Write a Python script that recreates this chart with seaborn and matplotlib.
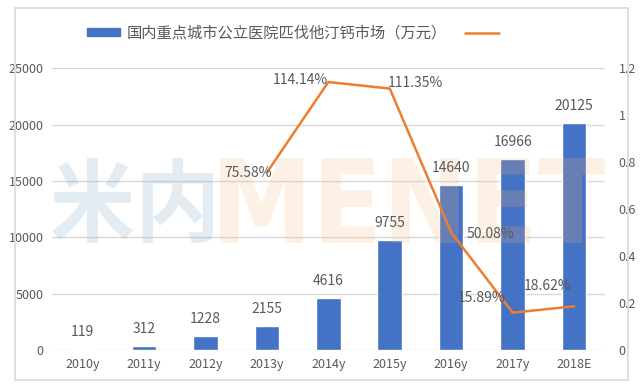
import numpy as np
import pandas as pd
import matplotlib
matplotlib.use("Agg")
import matplotlib.pyplot as plt
import seaborn as sns
from matplotlib.patches import Rectangle, PathPatch
from matplotlib.textpath import TextPath
from matplotlib.font_manager import FontProperties
from matplotlib.transforms import Affine2D

years = ["2010y", "2011y", "2012y", "2013y", "2014y", "2015y", "2016y", "2017y", "2018E"]
market = [119, 312, 1228, 2155, 4616, 9755, 14640, 16966, 20125]
growth_years = ["2013y", "2014y", "2015y", "2016y", "2017y", "2018E"]
growth = [0.7558, 1.1414, 1.1135, 0.5008, 0.1589, 0.1862]
legend_label = "国内重点城市公立医院匹伐他汀钙市场（万元）"

sns.set_style("white")
plt.rcParams["font.family"] = ["Noto Sans CJK SC", "DejaVu Sans"]
txt = "#595959"
grid = "#d9d9d9"
W, H = 640, 387

fig = plt.figure(figsize=(6.4, 3.87), dpi=100)
ax = fig.add_axes([0.081, 0.0956, 0.864, 0.728])

# outer frame
fig.patches.append(Rectangle((15 / W, 1 - 380 / H), 613 / W, 372 / H,
                             transform=fig.transFigure, fill=False,
                             edgecolor=grid, linewidth=1.2))


def watermark(s, x0, x1, ytop, ybot, color, family):
    # squeeze a text outline into a box given in pixels from top-left (watermark logo)
    tp = TextPath((0, 0), s, size=1, prop=FontProperties(family=family, weight="bold"))
    ext = tp.get_extents()
    sx = (x1 - x0) / ext.width / W
    sy = (ytop - ybot) / ext.height / H
    tr = (Affine2D().translate(-ext.x0, -ext.y0).scale(sx, -sy)
          .translate(x0 / W, 1 - ybot / H) + fig.transFigure)
    p = PathPatch(tp, facecolor=color, edgecolor="none", alpha=0.2,
                  transform=tr, zorder=4)
    ax.add_patch(p)


watermark("米内", 52, 213, 158, 243, "#6ea0be", "Noto Sans CJK SC")
watermark("MENET", 220, 607, 158, 243, "#f5b47a", "DejaVu Sans")

df = pd.DataFrame({"year": years, "value": market})
sns.barplot(data=df, x="year", y="value", color="#4472c4", width=0.4,
            saturation=1, ax=ax, zorder=3)
ax.set_ylim(0, 25000)
ax.set_yticks(range(0, 25001, 5000))
ax.yaxis.grid(True, color=grid, linewidth=1)
ax.set_axisbelow(True)
ax.set_xlabel("")
ax.set_ylabel("")
for s in ax.spines.values():
    s.set_visible(False)
ax.tick_params(axis="both", length=0, labelsize=9, colors=txt, pad=6)
ax.set_xlim(-0.5, len(years) - 0.5)

for i, v in enumerate(market):
    ax.text(i, v + 900, str(v), ha="center", va="bottom", fontsize=10, color=txt, zorder=5)

ax2 = ax.twinx()
xpos = [years.index(y) for y in growth_years]
line, = ax2.plot(xpos, growth, color="#ed7d31", linewidth=1.8, zorder=4)
ax2.set_ylim(0, 1.2)
ax2.set_yticks([0, 0.2, 0.4, 0.6, 0.8, 1.0, 1.2])
ax2.set_yticklabels(["0", "0.2", "0.4", "0.6", "0.8", "1", "1.2"])
for s in ax2.spines.values():
    s.set_visible(False)
ax2.tick_params(axis="y", length=0, labelsize=9, colors=txt, pad=10)

offsets = [(-0.3, 0.0), (-0.45, 0.01), (0.42, 0.025),
           (0.64, -0.005), (-0.5, 0.064), (-0.43, 0.085)]
for x, g, (dx, dy) in zip(xpos, growth, offsets):
    ax2.text(x + dx, g + dy, f"{g * 100:.2f}%", ha="center", va="center",
             fontsize=10, color=txt, zorder=6)

bar_handle = Rectangle((0, 0), 1, 1, color="#4472c4")
fig.legend([bar_handle, line], [legend_label, ""], loc="center",
           bbox_to_anchor=(0.462, 0.915), ncol=2, frameon=False, fontsize=11,
           handlelength=2.2, handleheight=0.5, columnspacing=1.2,
           handletextpad=0.4, labelcolor=txt)

fig.savefig("out.png", dpi=100)
